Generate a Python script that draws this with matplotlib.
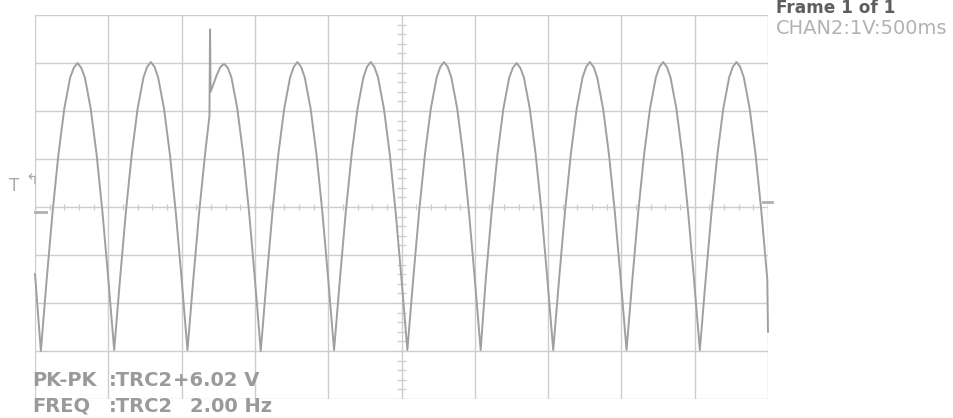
import matplotlib
matplotlib.use("Agg")
import matplotlib.pyplot as plt
import numpy as np

# ---- trace (seconds, volts) -----------------------------------------------
time_s = [
    0.00,
    0.04, 0.08, 0.12, 0.16, 0.20, 0.24, 0.265, 0.29, 0.315, 0.34, 0.38, 0.42, 0.46, 0.50,
    0.54, 0.58, 0.62, 0.66, 0.70, 0.74, 0.765, 0.79, 0.815, 0.84, 0.88, 0.92, 0.96, 1.00,
    1.04, 1.08, 1.12, 1.16, 1.19, 1.194, 1.198, 1.24, 1.265, 1.29, 1.315, 1.34, 1.38, 1.42, 1.46, 1.50,
    1.54, 1.58, 1.62, 1.66, 1.70, 1.74, 1.765, 1.79, 1.815, 1.84, 1.88, 1.92, 1.96, 2.00,
    2.04, 2.08, 2.12, 2.16, 2.20, 2.24, 2.265, 2.29, 2.315, 2.34, 2.38, 2.42, 2.46, 2.50,
    2.54, 2.58, 2.62, 2.66, 2.70, 2.74, 2.765, 2.79, 2.815, 2.84, 2.88, 2.92, 2.96, 3.00,
    3.04, 3.075, 3.115, 3.155, 3.195, 3.235, 3.26, 3.285, 3.31, 3.335, 3.375, 3.415, 3.455, 3.495,
    3.535, 3.575, 3.615, 3.655, 3.695, 3.735, 3.76, 3.785, 3.81, 3.835, 3.875, 3.915, 3.955, 3.995,
    4.035, 4.075, 4.115, 4.155, 4.195, 4.235, 4.26, 4.285, 4.31, 4.335, 4.375, 4.415, 4.455, 4.495,
    4.535, 4.575, 4.615, 4.655, 4.695, 4.735, 4.76, 4.785, 4.81, 4.835, 4.875, 4.915, 4.955, 4.995,
    5.00,
]
volts = [
    -1.4,
    -3.0, -1.5, -0.1, 1.1, 2.05, 2.7, 2.9, 3.0, 2.9, 2.7, 2.05, 1.1, -0.1, -1.5,
    -2.98, -1.5, -0.1, 1.1, 2.05, 2.7, 2.92, 3.02, 2.92, 2.7, 2.05, 1.1, -0.1, -1.5,
    -2.98, -1.5, -0.1, 1.1, 1.9, 3.7, 2.4, 2.75, 2.92, 2.98, 2.9, 2.7, 2.05, 1.1, -0.1, -1.5,
    -3.0, -1.5, -0.1, 1.1, 2.05, 2.7, 2.92, 3.02, 2.92, 2.7, 2.05, 1.1, -0.1, -1.5,
    -2.98, -1.5, -0.1, 1.1, 2.05, 2.7, 2.92, 3.02, 2.92, 2.7, 2.05, 1.1, -0.1, -1.5,
    -2.98, -1.5, -0.1, 1.1, 2.05, 2.7, 2.92, 3.02, 2.92, 2.7, 2.05, 1.1, -0.1, -1.5,
    -2.98, -1.5, -0.1, 1.1, 2.05, 2.7, 2.9, 3.0, 2.9, 2.7, 2.05, 1.1, -0.1, -1.5,
    -2.98, -1.5, -0.1, 1.1, 2.05, 2.7, 2.92, 3.02, 2.92, 2.7, 2.05, 1.1, -0.1, -1.5,
    -2.98, -1.5, -0.1, 1.1, 2.05, 2.7, 2.92, 3.02, 2.92, 2.7, 2.05, 1.1, -0.1, -1.5,
    -2.98, -1.5, -0.1, 1.1, 2.05, 2.7, 2.92, 3.02, 2.92, 2.7, 2.05, 1.1, -0.1, -1.5,
    -2.6,
]

header_lines = ["Frame 1 of 1", "CHAN2:1V:500ms"]
meas_names = ["PK-PK", "FREQ"]
meas_src = [":TRC2", ":TRC2"]
meas_vals = ["+6.02 V", "2.00 Hz"]

GRID = "#cdcdcd"
TRACE = "#a0a0a0"
TEXT = "#9a9a9a"

W, H = 954, 418
fig = plt.figure(figsize=(W / 100, H / 100), dpi=100)
fig.patch.set_facecolor("white")

# screen: 10 x 8 divisions, 500 ms/div, 1 V/div
x0, x1, ytop, ybot = 35, 768, 15, 399
ax = fig.add_axes([x0 / W, (H - ybot) / H, (x1 - x0) / W, (ybot - ytop) / H])
ax.set_xlim(0, 5)
ax.set_ylim(-4, 4)
ax.axis("off")

for xv in np.arange(0, 5.01, 0.5):
    ax.axvline(xv, color=GRID, lw=1.0, zorder=1)
for yv in np.arange(-4, 4.01, 1):
    ax.axhline(yv, color=GRID, lw=1.0, zorder=1)

# minor ticks on the centre cross
ax.vlines(np.arange(0, 5.01, 0.1), -0.07, 0.07, color=GRID, lw=0.9, zorder=1)
ax.hlines(np.arange(-4, 4.01, 0.2), 2.47, 2.53, color=GRID, lw=0.9, zorder=1)

ax.plot(time_s, volts, color=TRACE, lw=1.4, solid_joinstyle="round", zorder=3, clip_on=False)

# ground / level markers
fig.add_artist(plt.Line2D([35 / W, 46 / W], [1 - 212 / H] * 2, color="#b0b0b0", lw=2))
fig.add_artist(plt.Line2D([763 / W, 772 / W], [1 - 202 / H] * 2, color="#b0b0b0", lw=2))
fig.text(9 / W, 1 - 186 / H, "T", color="#a8a8a8", fontsize=12, va="center")
fig.text(25 / W, 1 - 180 / H, "\u21b0", color="#a8a8a8", fontsize=11, va="center")

# header at top right (top row cut by the scan)
fig.text(776 / W, 1 - 13 / H, header_lines[0], color="#5e5e5e", fontsize=12.2,
         fontweight="bold", va="baseline")
fig.text(776 / W, 1 - 28 / H, header_lines[1], color="#b2b2b2", fontsize=14,
         va="center")

# measurement readout
rows_y = [381, 406]
val_x = [173, 190]
for i, y in enumerate(rows_y):
    fig.text(32 / W, 1 - y / H, meas_names[i], color=TEXT, fontsize=14,
             fontweight="bold", va="center")
    fig.text(109 / W, 1 - y / H, meas_src[i], color=TEXT, fontsize=14,
             fontweight="bold", va="center")
    fig.text(val_x[i] / W, 1 - y / H, meas_vals[i], color=TEXT, fontsize=14,
             fontweight="bold", va="center")

fig.savefig("out.png", dpi=100)
